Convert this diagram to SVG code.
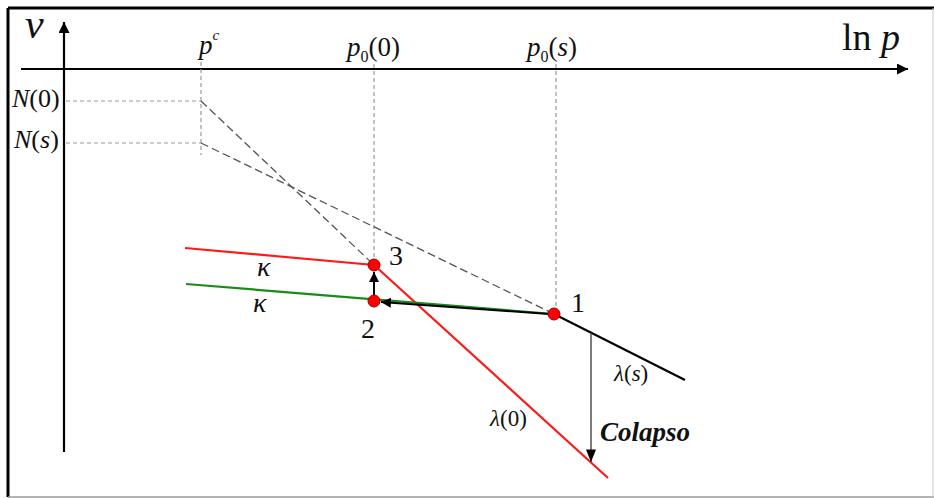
<svg xmlns="http://www.w3.org/2000/svg" width="934" height="498" viewBox="0 0 934 498">
<style>
.t{font-family:"Liberation Serif","DejaVu Serif",serif;fill:#111}
.i{font-style:italic}
.lg{stroke:#9a9a9a;stroke-width:1.2;stroke-dasharray:4 3;fill:none}
.dg{stroke:#555;stroke-width:1.3;stroke-dasharray:8 4;fill:none}
.pt{fill:#ff0000;stroke:#a00000;stroke-width:1}
</style>
<defs>
<marker id="ah" viewBox="0 0 10 10" refX="10" refY="5" markerWidth="5" markerHeight="5" orient="auto" markerUnits="strokeWidth">
<path d="M0,0 L10,5 L0,10 z" fill="#000"/>
</marker>
<marker id="ah2" viewBox="0 0 10 10" refX="10" refY="5" markerWidth="9" markerHeight="9" orient="auto" markerUnits="strokeWidth">
<path d="M0,1 L10,5 L0,9 z" fill="#000"/>
</marker>
</defs>
<rect width="934" height="498" fill="#fff"/>
<g id="frame">
<line x1="8" y1="8" x2="934" y2="8" stroke="#000" stroke-width="3"/>
<line x1="8" y1="8" x2="8" y2="497" stroke="#000" stroke-width="3"/>
<line x1="8" y1="497" x2="934" y2="497" stroke="#999" stroke-width="1.5"/>
<line x1="933" y1="8" x2="933" y2="497" stroke="#ccc" stroke-width="1"/>
</g>
<g id="axes">
<line x1="64" y1="452" x2="64" y2="22" stroke="#000" stroke-width="2.2" marker-end="url(#ah)"/>
<line x1="21" y1="69" x2="908" y2="69" stroke="#000" stroke-width="2.2" marker-end="url(#ah)"/>
<text class="t i" x="25" y="38" font-size="42">v</text>
<text class="t" x="842" y="50" font-size="38">ln <tspan class="i">p</tspan></text>
</g>
<g id="guides">
<line class="lg" x1="201" y1="62" x2="201" y2="155"/>
<line class="lg" x1="374" y1="64" x2="374" y2="258"/>
<line class="lg" x1="556" y1="64" x2="556" y2="308"/>
<line class="lg" x1="66" y1="101" x2="201" y2="101"/>
<line class="lg" x1="66" y1="143" x2="201" y2="143"/>
<line class="dg" x1="201" y1="101" x2="374" y2="265"/>
<line class="dg" x1="201" y1="143" x2="554" y2="314"/>
</g>
<g id="labels">
<text class="t i" x="199" y="54" font-size="27">p<tspan font-size="15" dy="-14">c</tspan></text>
<text class="t i" x="347" y="56" font-size="27">p<tspan font-size="16" font-style="normal" dy="6">0</tspan><tspan font-style="normal" dy="-6">(0)</tspan></text>
<text class="t i" x="527" y="56" font-size="27">p<tspan font-size="16" font-style="normal" dy="6">0</tspan><tspan font-style="normal" dy="-6">(</tspan>s<tspan font-style="normal">)</tspan></text>
<text class="t" x="12" y="107" font-size="26"><tspan class="i">N</tspan>(0)</text>
<text class="t" x="14" y="148" font-size="26"><tspan class="i">N</tspan>(<tspan class="i">s</tspan>)</text>
</g>
<g id="line-lambda0">
<polyline points="185,248 374,265 608,478" fill="none" stroke="#ff1a1a" stroke-width="2.2"/>
</g>
<g id="line-kappa">
<line x1="186" y1="284" x2="554" y2="314" stroke="#1a8a1a" stroke-width="2.2"/>
</g>
<g id="line-lambdas">
<line x1="554" y1="314" x2="685" y2="380" stroke="#000" stroke-width="2.2"/>
</g>
<g id="connectors">
<line x1="549" y1="314" x2="381" y2="302" stroke="#000" stroke-width="2" marker-end="url(#ah)"/>
<line x1="374" y1="295" x2="374" y2="272" stroke="#000" stroke-width="2" marker-end="url(#ah)"/>
<line x1="591" y1="333" x2="591" y2="462" stroke="#444" stroke-width="1.4" marker-end="url(#ah2)"/>
</g>
<g id="node-1">
<circle class="pt" cx="554" cy="314" r="6"/>
<text class="t" x="571" y="312" font-size="28">1</text>
</g>
<g id="node-2">
<circle class="pt" cx="374" cy="301" r="6"/>
<text class="t" x="361" y="338" font-size="28">2</text>
</g>
<g id="node-3">
<circle class="pt" cx="374" cy="265" r="6"/>
<text class="t" x="389" y="265" font-size="28">3</text>
</g>
<g id="curve-labels">
<text class="t i" x="257" y="276" font-size="28">κ</text>
<text class="t i" x="253" y="312" font-size="28">κ</text>
<text class="t" x="614" y="381" font-size="23"><tspan class="i">λ</tspan>(<tspan class="i">s</tspan>)</text>
<text class="t" x="490" y="426" font-size="23"><tspan class="i">λ</tspan>(0)</text>
<text class="t i" x="600" y="441" font-size="27" font-weight="bold">Colapso</text>
</g>
</svg>
